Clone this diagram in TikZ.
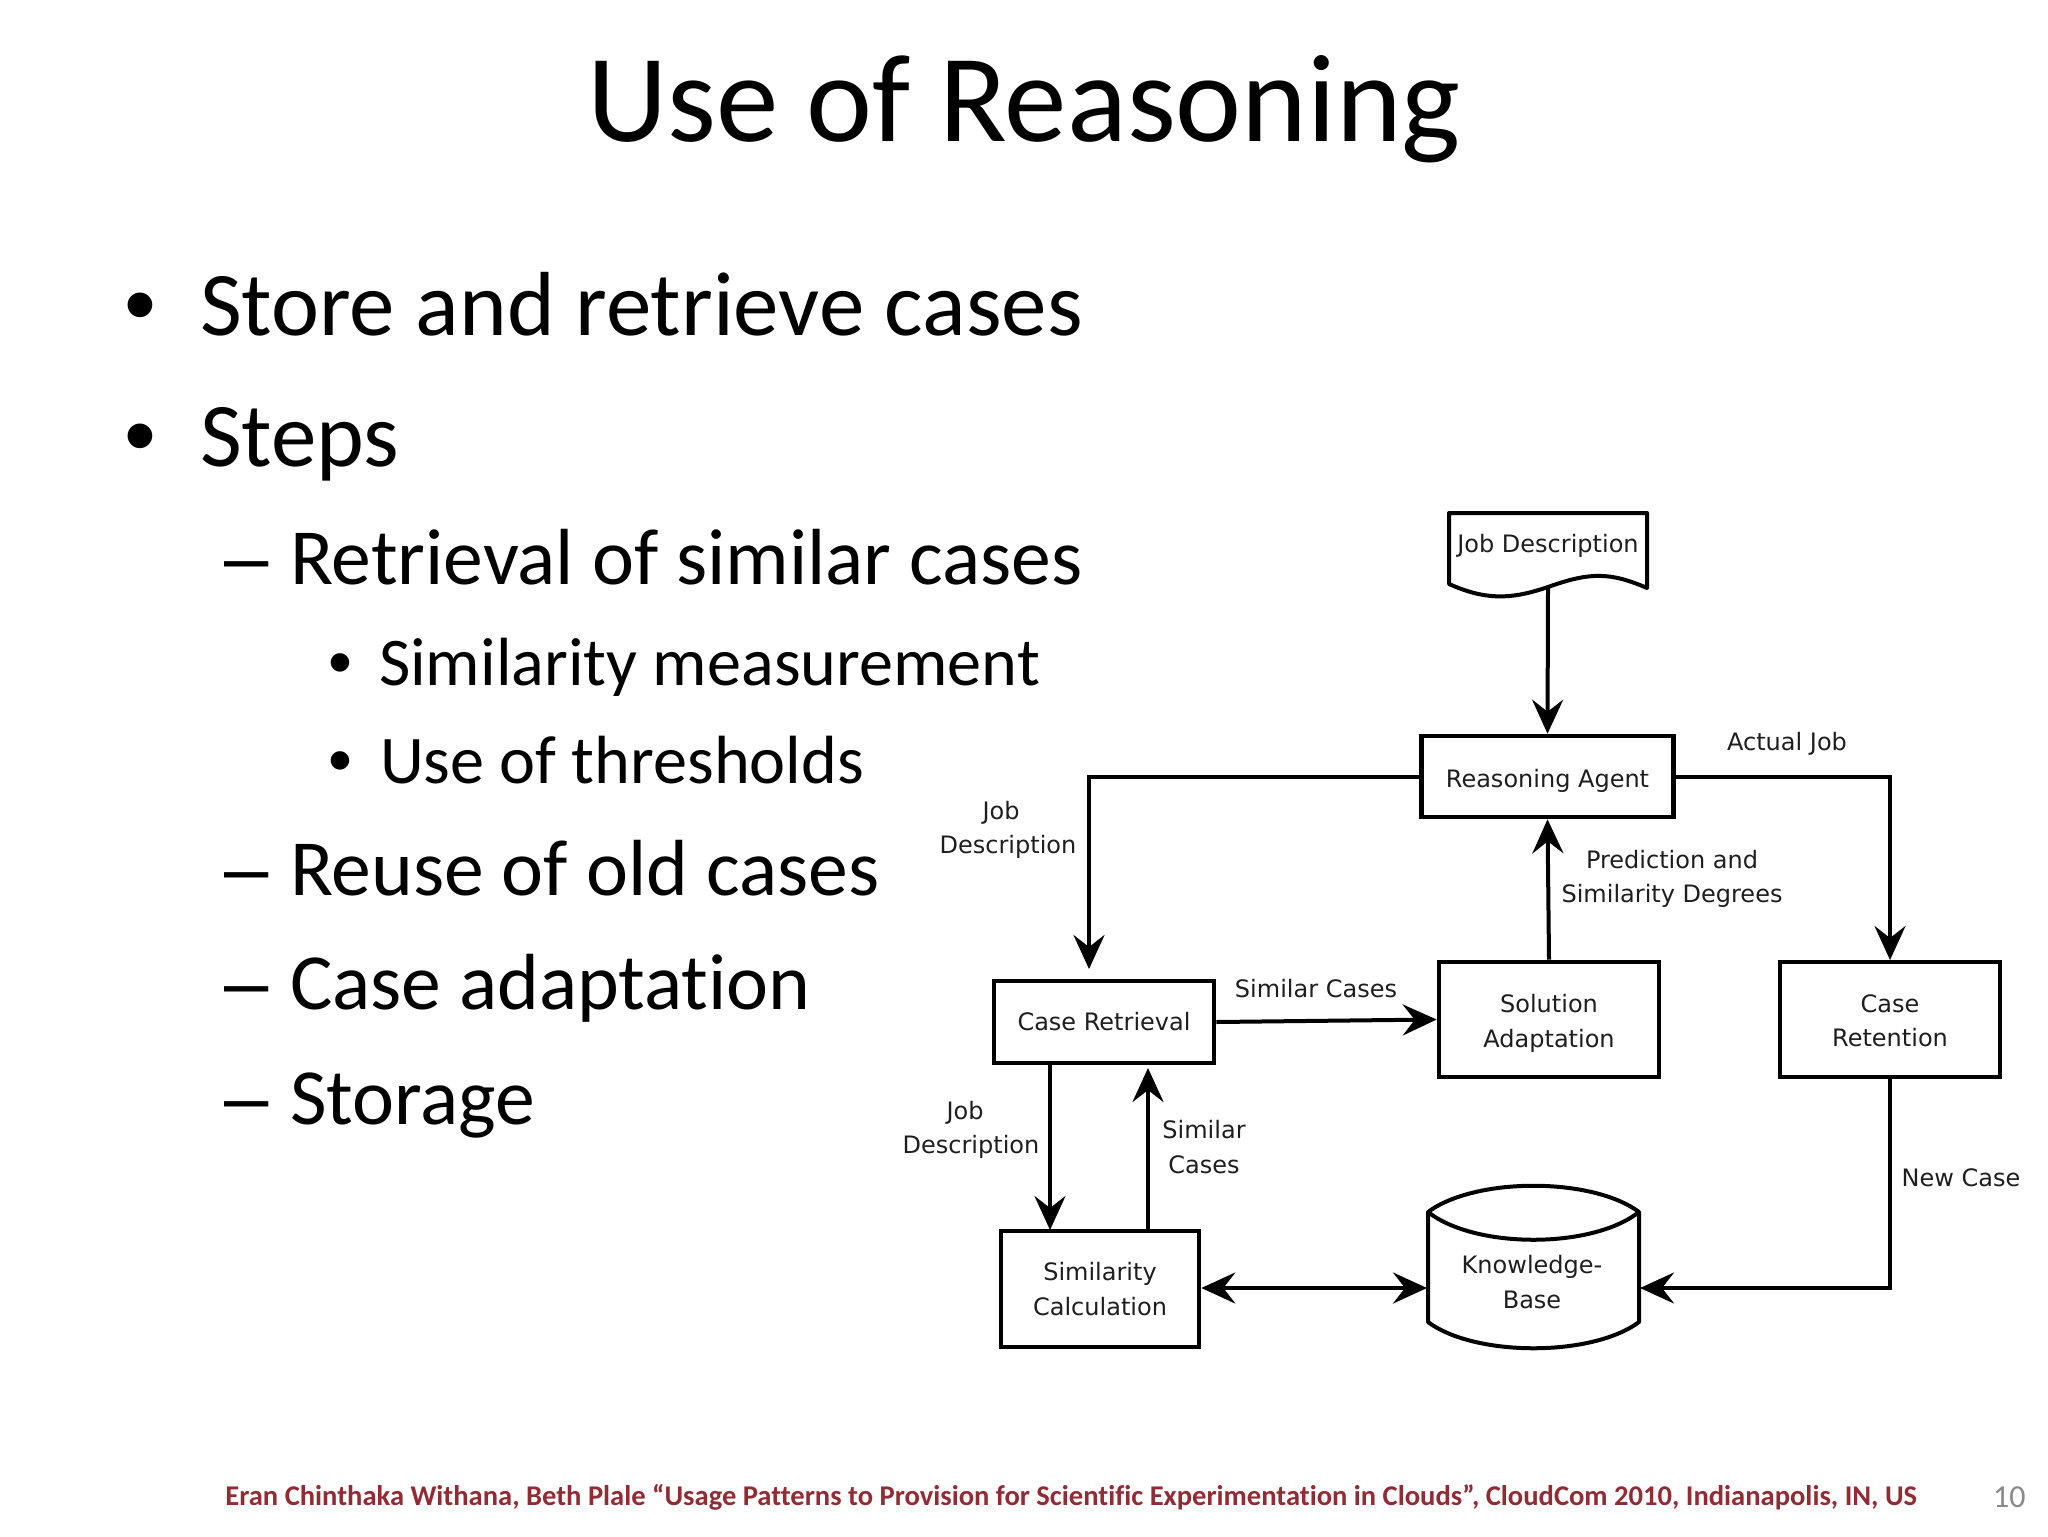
\documentclass[tikz,border=0pt]{standalone}
\usepackage{fontspec}
\setmainfont[Ligatures=NoCommon]{Carlito}
\newfontfamily\diafont{DejaVu Sans}
\newfontfamily\markfont{Liberation Sans}
\usetikzlibrary{arrows.meta}
\definecolor{footred}{RGB}{146,44,52}
\definecolor{pagegray}{RGB}{137,137,137}
\definecolor{diatext}{RGB}{30,30,30}
\tikzset{
 x=0.5pt,y=-0.5pt,
 txt/.style={anchor=base west,inner sep=0pt,outer sep=0pt,text=black},
 lvlone/.style={txt,font=\fontsize{45.5}{52}\selectfont},
 lvltwo/.style={txt,font=\fontsize{39.8}{46}\selectfont},
 lvlthree/.style={txt,font=\fontsize{34.1}{40}\selectfont},
 boxn/.style={draw=black,line width=2.3pt,fill=white,align=center,inner sep=0pt,font=\diafont\fontsize{12}{17.2}\selectfont,text=diatext},
 lab/.style={align=center,inner sep=0pt,font=\diafont\fontsize{12}{17.2}\selectfont,text=diatext},
 shapeline/.style={draw=black,line width=2pt,line join=round,fill=white},
 conn/.style={draw=black,line width=2pt},
 arr/.style={conn,-{Stealth[length=17pt,width=15.5pt,inset=6pt]}},
 arrboth/.style={conn,{Stealth[length=17pt,width=15.5pt,inset=6pt]}-{Stealth[length=17pt,width=15.5pt,inset=6pt]}},
}
\begin{document}
\begin{tikzpicture}
\useasboundingbox (0,0) rectangle (2048,1536);
% slide text
\node[anchor=base,inner sep=0pt,font=\fontsize{62.5}{70}\selectfont] (title) at (1024,141) {Use of Reasoning};
\node[lvlone] (b1m) at (124,335.5) {\markfont •};
\node[lvlone] (b1) at (200,335.5) {Store and retrieve cases};
\node[lvlone] (b2m) at (124,466) {\markfont •};
\node[lvlone] (b2) at (200,466) {Steps};
\node[lvltwo] (c1m) at (224,584) {\markfont –};
\node[lvltwo] (c1) at (290,584) {Retrieval of similar cases};
\node[lvlthree] (d1m) at (328,685.5) {\markfont •};
\node[lvlthree] (d1) at (379,685.5) {Similarity measurement};
\node[lvlthree] (d2m) at (328,783.5) {\markfont •};
\node[lvlthree] (d2) at (380,783.5) {Use of thresholds};
\node[lvltwo] (c2m) at (224,895) {\markfont –};
\node[lvltwo] (c2) at (290,895) {Reuse of old cases};
\node[lvltwo] (c3m) at (224,1009.5) {\markfont –};
\node[lvltwo] (c3) at (290,1009.5) {Case adaptation};
\node[lvltwo] (c4m) at (224,1124.5) {\markfont –};
\node[lvltwo] (c4) at (290,1124.5) {Storage};
\node[anchor=base west,inner sep=0pt,text=footred,font=\bfseries\fontsize{14.28}{17}\selectfont] (foot) at (225,1505) {Eran Chinthaka Withana, Beth Plale “Usage Patterns to Provision for Scientific Experimentation in Clouds”, CloudCom 2010, Indianapolis, IN, US};
\node[anchor=base east,inner sep=0pt,text=pagegray,font=\fontsize{16}{19}\selectfont] (page) at (2026,1507) {10};
% document shape
\draw[shapeline] (1449,513) -- (1647,513) -- (1647,588) .. controls (1610,572) and (1590,572) .. (1548,587) .. controls (1510,600) and (1485,600) .. (1449,584) -- cycle;
\node[lab] (doc) at (1548,546) {Job Description};
\coordinate (docb) at (1548,587);
% boxes
\node[boxn,minimum width=126pt,minimum height=40.5pt,text height=11pt,text depth=0pt] (ra) at (1547.5,776.5) {Reasoning Agent};
\node[boxn,minimum width=110pt,minimum height=41pt] (cr) at (1104,1022) {Case Retrieval};
\node[boxn,minimum width=110pt,minimum height=57.5pt] (sa) at (1549,1019.5) {\rule{0pt}{13pt}Solution\\Adaptation};
\node[boxn,minimum width=110pt,minimum height=57.5pt] (cn) at (1890,1019.5) {\rule{0pt}{10pt}Case\\Retention};
\node[boxn,minimum width=99pt,minimum height=58pt] (sc) at (1100,1289) {Similarity\\Calculation};
% knowledge base
\draw[shapeline] (1428,1212) .. controls (1475,1177) and (1592,1177) .. (1639,1212) -- (1639,1322) .. controls (1592,1357) and (1475,1357) .. (1428,1322) -- cycle;
\draw[shapeline,fill=none] (1428,1212) .. controls (1475,1249) and (1592,1249) .. (1639,1212);
\node[lab] (kb) at (1532,1282) {Knowledge-\\Base};
\coordinate (kbl) at (1427,1288);
\coordinate (kbr) at (1640,1288);
% connector way-points
\coordinate (crtop) at (1089,969);
\coordinate (cnt) at (1890,960);
\coordinate (crup) at (1148,1068);
\coordinate (scup) at (1148,1230);
\coordinate (crdn) at (1050,1063);
\coordinate (scdn) at (1050,1230);
% connectors
\draw[arr] (docb) -- (ra.north);
\draw[arr] (ra.west) -| (crtop);
\draw[arr] (ra.east) -| (cnt);
\draw[arr] (sa.north) -- (ra.south);
\draw[arr] (cr.east) -- (sa.west);
\draw[arr] (crdn) -- (scdn);
\draw[arr] (scup) -- (crup);
\draw[arrboth] (sc.east |- kbl) -- (kbl);
\draw[arr] (cn.south) |- (kbr);
% labels
\node[lab] (l1) at (1787,744) {Actual Job};
\node[lab] (l2) at (1008,830) {Job\hspace*{7pt}\\Description};
\node[lab] (l3) at (1672,879) {Prediction and\\Similarity Degrees};
\node[lab] (l4) at (1316,989) {Similar Cases};
\node[lab] (l5) at (971,1130) {Job\hspace*{6pt}\\Description};
\node[lab] (l6) at (1204,1147) {Similar\\Cases};
\node[lab] (l7) at (1961,1178) {New Case};
\end{tikzpicture}
\end{document}
